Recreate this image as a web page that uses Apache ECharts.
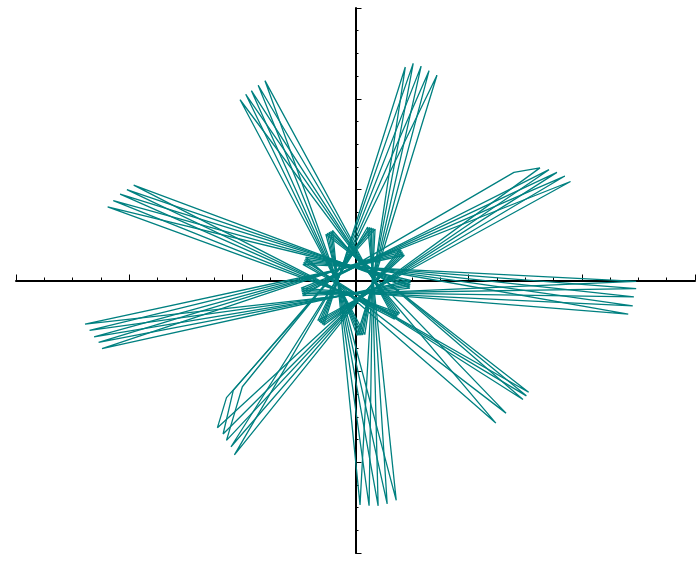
<!DOCTYPE html>
<html>
<head>
<meta charset="utf-8">
<script src="https://cdn.jsdelivr.net/npm/echarts@6/dist/echarts.min.js"></script>
<style>
  html, body { margin: 0; padding: 0; background: #fff; }
  #chart { width: 699px; height: 562px; }
</style>
</head>
<body>
<div id="chart"></div>
<script>
// five copies of the 9-point star, vertices
// order: tip, turn point (past the origin), tip, ... clockwise from the top spike
const curve0 = [
  [0.44, 2.35], [-0.281, -0.493], [1.63, 1.24], [1.40, 1.19], [-0.467, -0.167],
  [2.48, -0.01], [-0.465, 0.178], [1.53, -1.23], [-0.262, 0.509], [0.36, -2.42],
  [0.107, 0.589], [-1.07, -1.92], [0.396, 0.349], [-2.24, -0.75], [0.486, 0],
  [-2.19, 0.81], [0.390, -0.361], [-1.02, 1.99], [0.082, -0.595], [0.44, 2.35]
]
const curve1 = [
  [0.51, 2.39], [-0.294, -0.481], [1.71, 1.22], [-0.471, -0.146],
  [2.48, -0.09], [-0.459, 0.196], [1.51, -1.27], [-0.248, 0.520], [0.28, -2.46],
  [0.124, 0.584], [-1.10, -1.83], [0.405, 0.331], [-2.27, -0.68], [0.486, -0.020],
  [-2.14, 0.88], [0.379, -0.379], [-0.97, 2.05], [0.064, -0.600], [0.51, 2.39]
]
const curve2 = [
  [0.58, 2.36], [-0.308, -0.468], [1.78, 1.19], [-0.474, -0.126],
  [2.46, -0.18], [-0.452, 0.217], [1.48, -1.31], [-0.233, 0.531], [0.20, -2.48],
  [0.140, 0.580], [-1.00, -1.17], [-1.14, -1.76], [0.415, 0.314], [-2.31, -0.62], [0.484, -0.042],
  [-2.08, 0.95], [0.368, -0.394], [-0.92, 2.09], [0.049, -0.602], [0.58, 2.36]
]
const curve3 = [
  [0.65, 2.31], [-0.320, -0.454], [1.85, 1.15], [-0.478, -0.105],
  [2.45, -0.28], [-0.446, 0.236], [1.33, -1.46], [-0.218, 0.540], [0.12, -2.48],
  [0.157, 0.572], [-1.08, -1.21], [-1.17, -1.69], [0.423, 0.295], [-2.35, -0.55], [0.482, -0.063],
  [-2.02, 1.00], [0.357, -0.410], [-0.86, 2.15], [0.031, -0.603], [0.65, 2.31]
]
const curve4 = [
  [0.72, 2.26], [-0.333, -0.440], [1.90, 1.09], [-0.481, -0.085],
  [2.41, -0.37], [-0.440, 0.256], [1.24, -1.57], [-0.203, 0.550], [0.04, -2.47],
  [0.173, 0.566], [-1.14, -1.29], [-1.22, -1.62], [0.432, 0.278], [-2.39, -0.48], [0.481, -0.085],
  [-1.96, 1.05], [0.346, -0.426], [-0.80, 2.20], [0.014, -0.605], [0.72, 2.26]
]
const curves = [curve0, curve1, curve2, curve3, curve4]

const chart = echarts.init(document.getElementById('chart'))

const axisCommon = {
  type: 'value',
  min: -3,
  max: 3,
  interval: 1,
  axisLine: { onZero: true, lineStyle: { color: '#000', width: 2 } },
  axisTick: { show: true, inside: true, length: 6, lineStyle: { color: '#000', width: 1 } },
  minorTick: { show: true, splitNumber: 4, length: 3, lineStyle: { color: '#000', width: 1 } },
  axisLabel: { show: false },
  splitLine: { show: false }
}

chart.setOption({
  animation: false,
  grid: { left: 16, right: 4, top: 8, bottom: 9 },
  xAxis: axisCommon,
  yAxis: axisCommon,
  series: curves.map((pts) => ({
    type: 'line',
    data: pts,
    showSymbol: false,
    lineStyle: { color: '#008080', width: 1.3 }
  }))
})
</script>
</body>
</html>
